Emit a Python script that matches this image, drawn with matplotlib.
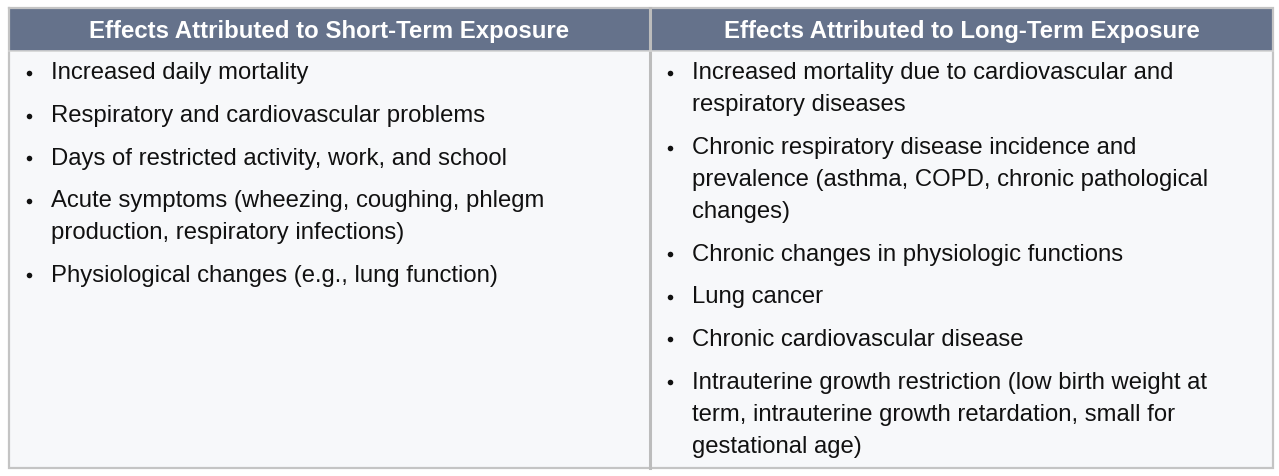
import matplotlib.pyplot as plt
from matplotlib.patches import Rectangle

plt.rcParams['font.family'] = ['Liberation Sans', 'DejaVu Sans']

# table content
headers = ['Effects Attributed to Short-Term Exposure',
           'Effects Attributed to Long-Term Exposure']

short_term = [
    ['Increased daily mortality'],
    ['Respiratory and cardiovascular problems'],
    ['Days of restricted activity, work, and school'],
    ['Acute symptoms (wheezing, coughing, phlegm',
     'production, respiratory infections)'],
    ['Physiological changes (e.g., lung function)'],
]

long_term = [
    ['Increased mortality due to cardiovascular and',
     'respiratory diseases'],
    ['Chronic respiratory disease incidence and',
     'prevalence (asthma, COPD, chronic pathological',
     'changes)'],
    ['Chronic changes in physiologic functions'],
    ['Lung cancer'],
    ['Chronic cardiovascular disease'],
    ['Intrauterine growth restriction (low birth weight at',
     'term, intrauterine growth retardation, small for',
     'gestational age)'],
]

W, H = 1279, 477
fig = plt.figure(figsize=(W / 100, H / 100), dpi=100)
ax = fig.add_axes([0, 0, 1, 1])
ax.set_xlim(0, W)
ax.set_ylim(H, 0)
ax.axis('off')

left, right, top, bottom = 9, 1273, 9, 469
mid = 650
head_h = 43

head_col = '#65728b'
body_col = '#f7f8fa'
line_col = '#c4c4c4'

ax.add_patch(Rectangle((left, top), right - left, bottom - top,
                       facecolor=body_col, edgecolor='none'))
ax.add_patch(Rectangle((left, top), right - left, head_h,
                       facecolor=head_col, edgecolor='none'))
# borders
ax.plot([left, right, right, left, left], [top, top, bottom, bottom, top],
        color=line_col, lw=1.6, solid_joinstyle='miter')
ax.plot([mid, mid], [top, bottom], color='#bcbcbc', lw=2.2)
ax.plot([left, right], [top + head_h, top + head_h], color='#d4d4d4', lw=1.2)

# headers
for i, h in enumerate(headers):
    cx = (left + mid) / 2 if i == 0 else (mid + right) / 2
    ax.text(cx, top + head_h / 2 - 1.5, h, color='white', fontsize=17.3,
            fontweight='bold', ha='center', va='center_baseline')

# bullet lists
for col, items in enumerate([short_term, long_term]):
    x0 = left if col == 0 else mid
    y = 71
    for item in items:
        ax.plot(x0 + 20, y + 3, 'o', ms=4, color='#111111', mec='none')
        for line in item:
            ax.text(x0 + 42, y, line, fontsize=17.2, color='#111111',
                    ha='left', va='center_baseline')
            y += 32
        y += 10.6

fig.savefig('out.png', dpi=100)
